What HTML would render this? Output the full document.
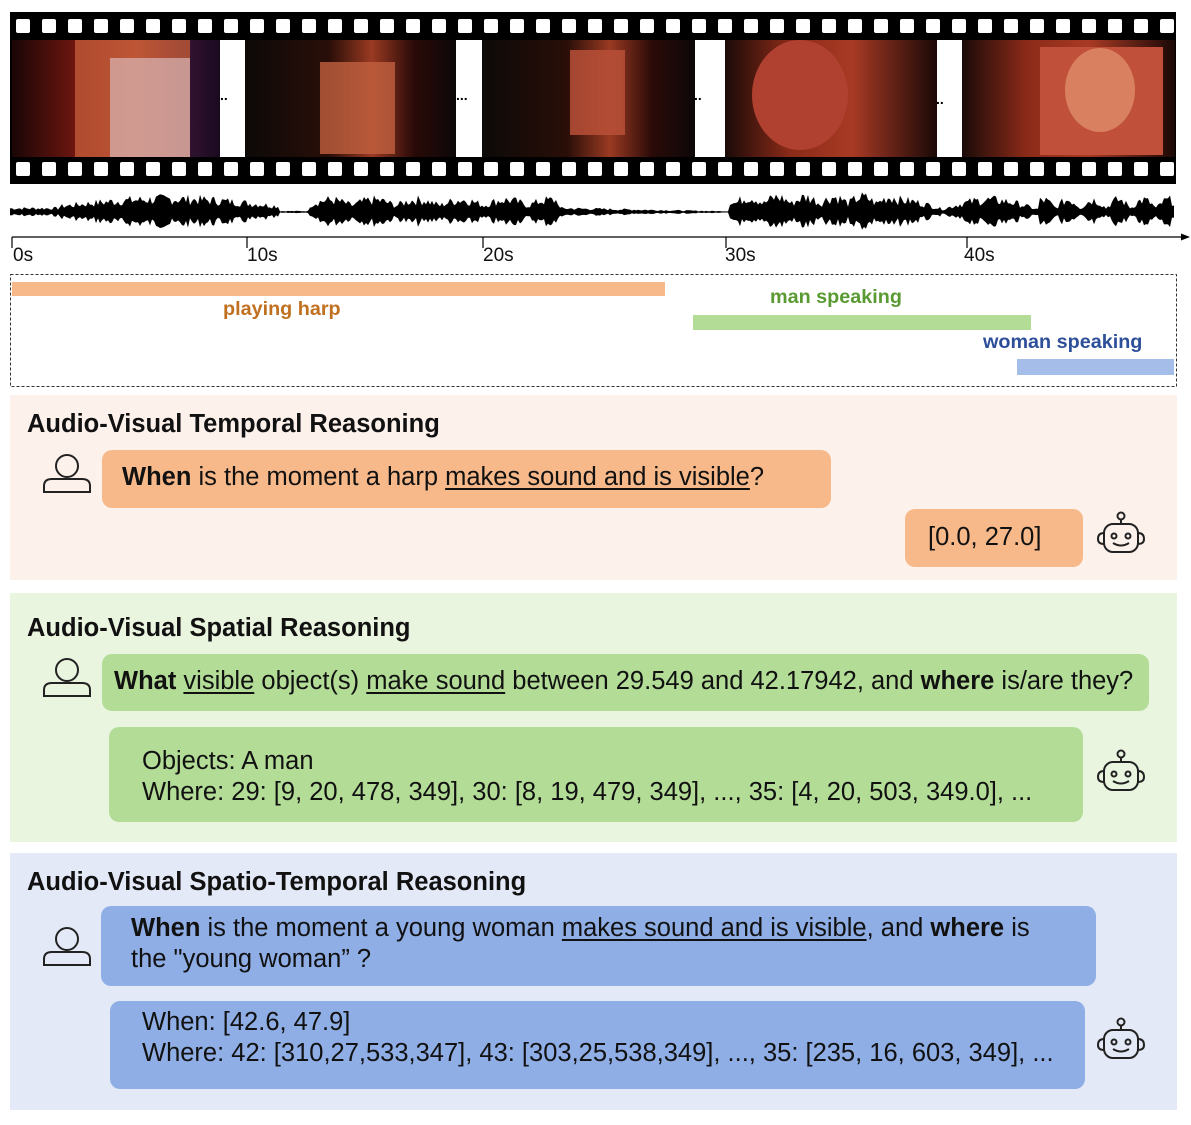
<!DOCTYPE html>
<html><head><meta charset="utf-8"><style>
*{margin:0;padding:0;box-sizing:border-box}
body{width:1191px;height:1125px;background:#fff;position:relative;overflow:hidden;font-family:"Liberation Sans",Arial,sans-serif;color:#111}
.a{position:absolute}
.sec{position:absolute;left:10px;width:1167px}
.title{position:absolute;left:17px;font-size:25.5px;font-weight:bold;white-space:nowrap}
.bub{position:absolute;border-radius:10px;font-size:25.5px;white-space:nowrap}
u{text-decoration-thickness:1.5px;text-underline-offset:3px}
</style></head><body>
<svg class="a" style="left:0;top:0" width="1191" height="400" viewBox="0 0 1191 400">
<defs>
<linearGradient id="g1" x1="0" x2="1"><stop offset="0" stop-color="#1a0606"/><stop offset=".35" stop-color="#7a1810"/><stop offset=".6" stop-color="#b0452a"/><stop offset=".8" stop-color="#3a1535"/><stop offset="1" stop-color="#1a0a20"/></linearGradient>
<linearGradient id="g2" x1="0" x2="1"><stop offset="0" stop-color="#0c0a08"/><stop offset=".4" stop-color="#2a0e08"/><stop offset=".6" stop-color="#9a3a22"/><stop offset=".8" stop-color="#2a0a08"/><stop offset="1" stop-color="#0c0808"/></linearGradient>
<linearGradient id="g4" x1="0" x2="1"><stop offset="0" stop-color="#1a0a08"/><stop offset=".3" stop-color="#8a2a18"/><stop offset=".6" stop-color="#a83a24"/><stop offset="1" stop-color="#1a0806"/></linearGradient>
</defs>
<rect x="10" y="12" width="1166" height="172" fill="#000"/>
<g id="holes" fill="#fff"></g>
<rect x="12" y="40" width="208" height="117" fill="url(#g1)"/>
<rect x="75" y="40" width="115" height="117" fill="#c05a38" opacity=".8"/>
<rect x="110" y="58" width="80" height="99" fill="#d8b8b8" opacity=".7"/>
<rect x="220" y="40" width="25" height="117" fill="#fff"/>
<rect x="245" y="40" width="211" height="117" fill="url(#g2)"/>
<rect x="320" y="62" width="75" height="92" fill="#c06040" opacity=".8"/>
<rect x="456" y="40" width="26" height="117" fill="#fff"/>
<rect x="482" y="40" width="213" height="117" fill="url(#g2)"/>
<rect x="570" y="50" width="55" height="85" fill="#b85038" opacity=".85"/>
<rect x="695" y="40" width="30" height="117" fill="#fff"/>
<rect x="725" y="40" width="212" height="117" fill="url(#g4)"/>
<ellipse cx="800" cy="95" rx="48" ry="55" fill="#b04030"/>
<rect x="937" y="40" width="25" height="117" fill="#fff"/>
<rect x="962" y="40" width="213" height="117" fill="url(#g4)"/>
<rect x="1040" y="47" width="123" height="108" fill="#c0503a"/>
<ellipse cx="1100" cy="90" rx="35" ry="42" fill="#d88060"/>
<g fill="#000" font-size="14" font-weight="bold"><text x="220" y="100">..</text><text x="456" y="100">...</text><text x="694" y="100">..</text><text x="936" y="104">..</text></g>
<path id="wave" fill="#000" d=""/>
<line x1="12" y1="237" x2="1184" y2="237" stroke="#000" stroke-width="1.2"/>
<path d="M1190 237 L1181 233.5 L1181 240.5Z" fill="#000"/>
<g stroke="#000" stroke-width="1.2"><line x1="12" y1="237" x2="12" y2="248"/><line x1="247" y1="237" x2="247" y2="248"/><line x1="483" y1="237" x2="483" y2="248"/><line x1="726" y1="237" x2="726" y2="248"/><line x1="967" y1="237" x2="967" y2="248"/></g>
<g font-size="19" fill="#111"><text x="13" y="261">0s</text><text x="247" y="261">10s</text><text x="483" y="261">20s</text><text x="725" y="261">30s</text><text x="964" y="261">40s</text></g>
<rect x="10.5" y="274.5" width="1166" height="112" fill="none" stroke="#333" stroke-dasharray="3,2"/>
<rect x="12" y="282" width="653" height="14" fill="#f7b98a"/>
<rect x="693" y="315" width="338" height="15" fill="#b3dc97"/>
<rect x="1017" y="359" width="157" height="16" fill="#a5bde9"/>
<g font-size="19.8" font-weight="bold"><text x="223" y="315" fill="#c0701f">playing harp</text><text x="770" y="303" fill="#5a9a32">man speaking</text><text x="983" y="348" fill="#2d4f9a">woman speaking</text></g>
</svg>
<script>
(function(){var g=document.getElementById('holes'),s='';for(var x=16;x<1176;x+=26){s+='<rect x="'+x+'" y="19" width="14" height="14" rx="2"/><rect x="'+x+'" y="162" width="14" height="14" rx="2"/>';}g.innerHTML=s;
var seed=7;function r(){seed=(seed*9301+49297)%233280;return seed/233280;}
function amp(x){if(x<60)return 4;if(x<280)return 6+8*Math.sin((x-60)/220*Math.PI);if(x<310)return 1;if(x<560)return 7+6*Math.abs(Math.sin(x/14));if(x<720)return Math.max(1,4-(x-560)/50);if(x<730)return 0.8;if(x<900)return 9+7*Math.abs(Math.sin(x/9));if(x<1040)return 10*Math.abs(Math.sin(x/30))+3;return 4+9*Math.abs(Math.sin(x/8));}
var top=[],bot=[];for(var x=10;x<=1174;x+=2){var a=Math.max(0.6,amp(x)*(0.5+0.8*r()));top.push(x+' '+(212-a).toFixed(1));bot.push(x+' '+(212+a*0.9).toFixed(1));}
document.getElementById('wave').setAttribute('d','M'+top.join(' L')+' L'+bot.reverse().join(' L')+'Z');})();
</script>

<svg width="0" height="0" style="position:absolute"><defs>
<g id="user"><circle cx="25" cy="14" r="11" fill="none" stroke="#222" stroke-width="2"/><path d="M2 40 V34 Q2 27 10 27 H40 Q48 27 48 34 V40 Z" fill="none" stroke="#222" stroke-width="2"/></g>
<g id="bot" fill="none" stroke="#222" stroke-width="2"><circle cx="25" cy="5" r="3.5"/><line x1="25" y1="9" x2="25" y2="13"/><rect x="8" y="13" width="34" height="28" rx="9"/><path d="M8 22 Q2 22 2 28 Q2 33 8 33"/><path d="M42 22 Q48 22 48 28 Q48 33 42 33"/><circle cx="18" cy="25" r="2.5"/><circle cx="32" cy="25" r="2.5"/><path d="M17 32 Q25 37 33 32"/></g>
</defs></svg>

<div class="sec" style="top:395px;height:185px;background:#fdf1ec">
 <div class="title" style="top:15px">Audio-Visual Temporal Reasoning</div>
 <svg class="a" style="left:32px;top:57px" width="52" height="44"><use href="#user"/></svg>
 <div class="bub" style="left:92px;top:55px;width:729px;height:58px;background:#f7b98a;padding:13px 0 0 20px"><b>When</b> is the moment a harp <u>makes sound and is visible</u>?</div>
 <div class="bub" style="left:895px;top:114px;width:178px;height:58px;background:#f7b98a;padding:14px 0 0 23px">[0.0, 27.0]</div>
 <svg class="a" style="left:1086px;top:116px" width="52" height="46"><use href="#bot"/></svg>
</div>

<div class="sec" style="top:593px;height:249px;background:#eaf5e0">
 <div class="title" style="top:21px">Audio-Visual Spatial Reasoning</div>
 <svg class="a" style="left:32px;top:63px" width="52" height="44"><use href="#user"/></svg>
 <div class="bub" style="left:92px;top:61px;width:1047px;height:57px;background:#b3dc97;padding:13px 0 0 12px"><b>What</b> <u>visible</u> object(s) <u>make sound</u> between 29.549 and 42.17942, and <b>where</b> is/are they?</div>
 <div class="bub" style="left:99px;top:134px;width:974px;height:95px;background:#b3dc97;padding:19px 0 0 33px;line-height:31px">Objects: A man<br>Where: 29: [9, 20, 478, 349], 30: [8, 19, 479, 349], ..., 35: [4, 20, 503, 349.0], ...</div>
 <svg class="a" style="left:1086px;top:156px" width="52" height="46"><use href="#bot"/></svg>
</div>

<div class="sec" style="top:853px;height:257px;background:#e3e9f7">
 <div class="title" style="top:15px">Audio-Visual Spatio-Temporal Reasoning</div>
 <svg class="a" style="left:32px;top:72px" width="52" height="44"><use href="#user"/></svg>
 <div class="bub" style="left:91px;top:53px;width:995px;height:80px;background:#8faee5;padding:7px 0 0 30px;line-height:31px"><b>When</b> is the moment a young woman <u>makes sound and is visible</u>, and <b>where</b> is<br>the "young woman” ?</div>
 <div class="bub" style="left:100px;top:148px;width:975px;height:88px;background:#8faee5;padding:6px 0 0 32px;line-height:31px">When: [42.6, 47.9]<br>Where: 42: [310,27,533,347], 43: [303,25,538,349], ..., 35: [235, 16, 603, 349], ...</div>
 <svg class="a" style="left:1086px;top:164px" width="52" height="46"><use href="#bot"/></svg>
</div>
</body></html>
